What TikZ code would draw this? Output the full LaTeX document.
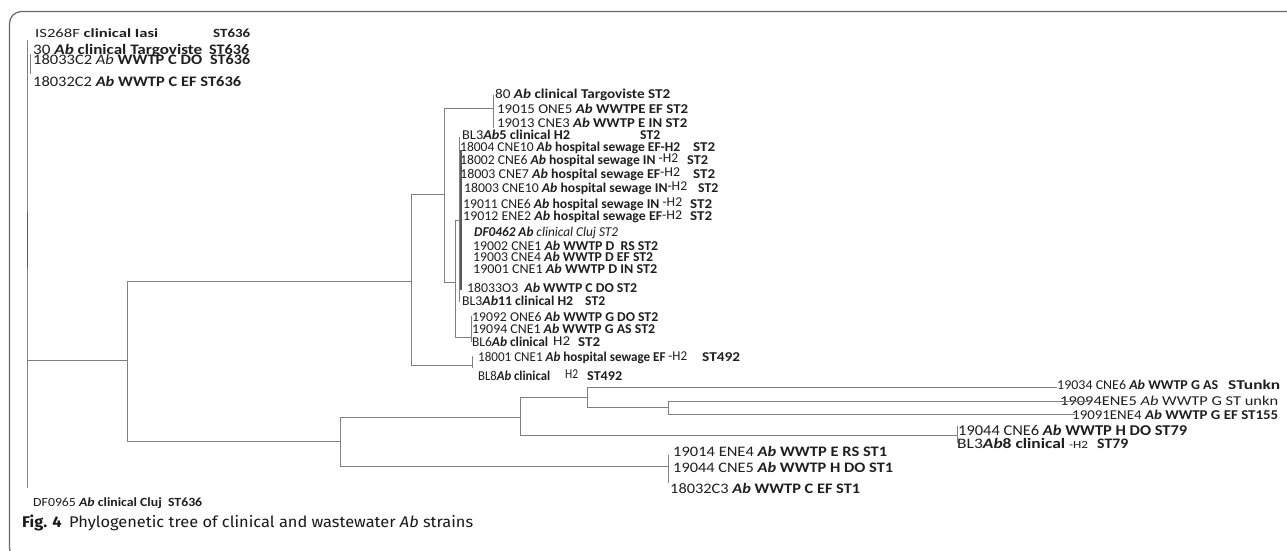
\documentclass[tikz,border=0pt]{standalone}
\usepackage{fontspec}
\usepackage{graphicx}
\setmainfont{Carlito}
\newfontfamily\capfont{Fira Sans}
\newcommand\abi{\textbf{\textit{Ab}}}
\newcommand\hh[1]{\raisebox{1.2pt}{\textmd{#1}}}
\newlength\fwlen
\newcommand\fw[2]{\settowidth\fwlen{#2}\pgfmathsetmacro\fwsx{#1/\fwlen}\scalebox{\fwsx}[1]{#2}}
% label with two parts: position of second part, width of first part, first, width of second, second
\newcommand\lst[5]{\makebox[#1pt][l]{\fw{#2}{#3}}\fw{#4}{#5}}
\tikzset{
  lab/.style={anchor=base west, inner sep=0pt, text=black!88, font=\fontsize{13.5}{14}\selectfont},
  labs/.style={lab, font=\fontsize{12.5}{13}\selectfont},
  labl/.style={lab, font=\fontsize{14.5}{15}\selectfont},
  br/.style={draw=black!50, line width=1pt},
  brd/.style={draw=black!65, line width=1.5pt},
  frm/.style={draw=black!60, line width=1.2pt}
}
\begin{document}
\begin{tikzpicture}[x=1pt,y=-1pt]
\useasboundingbox (0,0) rectangle (1287,550);
\clip (0,0) rectangle (1287,550);
\fill[white] (0,0) rectangle (1287,550);
\draw[frm, rounded corners=12pt] (9.5,11.5) rectangle (1310,560);

% ---------- labels ----------
\node[labs] (l1) at (35,37) {\lst{178}{123}{IS268F \textbf{clinical Iasi}}{37}{\textbf{ST636}}};
\node[labl] (l2) at (33,54.5) {\lst{176}{169}{30 \abi\ \textbf{clinical Targoviste}}{40}{\textbf{ST636}}};
\node[labl] (l3) at (33,64.5) {\lst{177}{169}{18033C2 \textit{Ab} \textbf{WWTP C DO}}{40}{\textbf{ST636}}};
\node[labl] (l4) at (33,86) {\fw{208}{18032C2 \abi\ \textbf{WWTP C EF ST636}}};

\node[lab] (l5) at (495,98) {\fw{175}{80 \abi\ \textbf{clinical Targoviste ST2}}};
\node[lab] (l6) at (497,113) {\fw{191}{19015 ONE5 \abi\ \textbf{WWTPE EF ST2}}};
\node[lab] (l7) at (497,127.5) {\fw{190}{19013 CNE3 \abi\ \textbf{WWTP E IN ST2}}};
\node[lab] (l8) at (462,139) {\lst{178}{108}{BL3\textbf{\textit{Ab}5 clinical H2}}{20}{\textbf{ST2}}};
\node[lab] (l9) at (460,151.5) {\lst{233}{220}{18004 CNE10 \abi\ \textbf{hospital sewage EF-H2}}{22}{\textbf{ST2}}};
\node[lab] (l10) at (460,164) {\lst{227}{218}{18002 CNE6 \abi\ \textbf{hospital sewage IN} \hh{-H2}}{21}{\textbf{ST2}}};
\node[lab] (l11) at (460,178) {\lst{233}{220}{18003 CNE7 \abi\ \textbf{hospital sewage EF}\hh{-H2}}{22}{\textbf{ST2}}};
\node[lab] (l12) at (464,192) {\lst{234}{223}{18003 CNE10 \abi\ \textbf{hospital sewage IN}\hh{-H2}}{20}{\textbf{ST2}}};
\node[lab] (l13) at (463,208) {\lst{227}{219}{19011 CNE6 \abi\ \textbf{hospital sewage IN} \hh{-H2}}{22}{\textbf{ST2}}};
\node[lab] (l14) at (463,220.5) {\lst{227}{219}{19012 ENE2 \abi\ \textbf{hospital sewage EF}\hh{-H2}}{22}{\textbf{ST2}}};
\node[lab] (l15) at (474,236.5) {\fw{144}{\textbf{\textit{DF0462 Ab}} \textit{clinical Cluj ST2}}};
\node[lab] (l16) at (473,250) {\fw{185}{19002 CNE1 \abi\ \textbf{WWTP D\ \ RS ST2}}};
\node[lab] (l17) at (473,261.5) {\fw{180}{19003 CNE4 \abi\ \textbf{WWTP D EF ST2}}};
\node[lab] (l18) at (473,273.5) {\fw{184}{19001 CNE1 \abi\ \textbf{WWTP D IN ST2}}};
\node[lab] (l19) at (467,292) {\fw{170}{18033O3\ \ \abi\ \textbf{WWTP C DO ST2}}};
\node[lab] (l20) at (462,305.5) {\lst{123}{111}{BL3\textbf{\textit{Ab}11 clinical H2}}{20}{\textbf{ST2}}};
\node[lab] (l21) at (472,321.5) {\fw{186}{19092 ONE6 \abi\ \textbf{WWTP G DO ST2}}};
\node[lab] (l22) at (472,333.5) {\fw{183}{19094 CNE1 \abi\ \textbf{WWTP G AS ST2}}};
\node[lab] (l23) at (472,346.5) {\makebox[81pt][l]{\fw{76}{BL6\abi\ \textbf{clinical}}}\lst{25}{17}{\hh{H2}}{22}{\textbf{ST2}}};
\node[lab] (l24) at (478,361.5) {\lst{224}{209}{18001 CNE1 \abi\ \textbf{hospital sewage EF} \hh{-H2}}{38}{\textbf{ST492}}};
\node[lab] (l25) at (478,380) {\makebox[87pt][l]{\fw{72}{BL8\abi\ \textbf{clinical}}}\lst{22}{13}{\hh{H2}}{35}{\textbf{ST492}}};

\node[lab] (l26) at (1057,389) {\lst{171}{161}{19034 CNE6 \abi\ \textbf{WWTP G AS}}{52}{\textbf{STunkn}}};
\node[lab] (l27) at (1060,405) {\fw{218}{19094ENE5 \textit{Ab} WWTP G ST unkn}};
\node[lab] (l28) at (1072,419) {\fw{206}{19091ENE4 \abi\ \textbf{WWTP G EF ST155}}};
\node[labl, font=\fontsize{15}{16}\selectfont] (l29) at (958,435.5) {\fw{229}{19044 CNE6 \abi\ \textbf{WWTP H DO ST79}}};
\node[labl] (l30) at (957,448.5) {\lst{140}{131}{BL3\textbf{\textit{Ab}8 clinical} {\fontsize{11}{12}\selectfont -H2}}{31}{\textbf{ST79}}};
\node[labl] (l31) at (673,456) {\fw{214}{19014 ENE4 \abi\ \textbf{WWTP E RS ST1}}};
\node[labl] (l32) at (673,472.5) {\fw{220}{19044 CNE5 \abi\ \textbf{WWTP H DO ST1}}};
\node[labl] (l33) at (670,493) {\fw{190}{18032C3 \abi\ \textbf{WWTP C EF ST1}}};
\node[labs] (l34) at (33,506) {\fw{169}{DF0965 \abi\ \textbf{clinical Cluj\ \ ST636}}};

\node[anchor=base west, inner sep=0pt, text=black!90, font=\capfont\fontsize{15.5}{16}\selectfont] (cap) at (22,527)
  {\fw{451}{\textbf{Fig. 4}\hspace{7pt}Phylogenetic tree of clinical and wastewater \textit{Ab} strains}};

% ---------- tree ----------
\coordinate (Rt) at (27.5,40);
\coordinate (Rb) at (27.5,488);
\coordinate (R) at (27.5,360);
\coordinate (Rs1) at (30.5,54);
\coordinate (Rs2) at (30.5,74);
\coordinate (Rd1) at (27.5,212);
\coordinate (Rd2) at (27.5,268);
\draw[br] (Rt) -- (Rb);
\draw[br] (Rs1) -- (Rs2);
\draw[brd] (Rd1) -- (Rd2);

\coordinate (A) at (127,360);
\coordinate (B) at (411,281);
\coordinate (C) at (340,441);
\coordinate (D) at (444,194);
\coordinate (E) at (472,365);
\coordinate (F) at (493,108);
\coordinate (G) at (455,282);
\coordinate (H) at (459,220);
\coordinate (I) at (471,337);
\coordinate (J) at (520,417);
\coordinate (K) at (668,466);
\coordinate (L) at (587,397);
\coordinate (M) at (957,435);
\coordinate (N) at (668,407);

\draw[br] (R) -- (A);
\draw[br] (A) |- (B);
\draw[br] (A) |- (C);
\draw[br] (B) |- (D);
\draw[br] (B) |- (E);
\draw[br] (D) |- (F);
\draw[br] (D) |- (G);
\draw[br] (G) |- (H);
\draw[br] (G) |- (I);
\draw[br] (C) |- (J);
\draw[br] (C) |- (K);
\draw[br] (J) |- (L);
\draw[br] (J) |- (M);
\draw[br] (L) |- (N);

% leaf spans
\coordinate (E1) at (472,356); \coordinate (E2) at (472,368);
\draw[br] (E1) -- (E2);
\coordinate (F1) at (493,95); \coordinate (F2) at (493,128);
\draw[br] (F1) -- (F2);
\coordinate (H1) at (459,137); \coordinate (H2) at (459,302);
\draw[br] (H1) -- (H2);
\coordinate (H3) at (461,150); \coordinate (H4) at (461,290);
\draw[brd, line width=1.2pt] (H3) -- (H4);
\coordinate (I1) at (471,316); \coordinate (I2) at (471,342);
\draw[br] (I1) -- (I2);
\coordinate (M1) at (957,426); \coordinate (M2) at (957,443);
\draw[br] (M1) -- (M2);
\coordinate (K1) at (668,455); \coordinate (K2) at (668,483);
\draw[br] (K1) -- (K2);

\coordinate (e26) at (1057,387);
\coordinate (e27) at (1088,401);
\coordinate (e28) at (1075,414);
\draw[br] (L) |- (e26);
\draw[br] (N) |- (e27);
\draw[br] (N) |- (e28);
\end{tikzpicture}
\end{document}
